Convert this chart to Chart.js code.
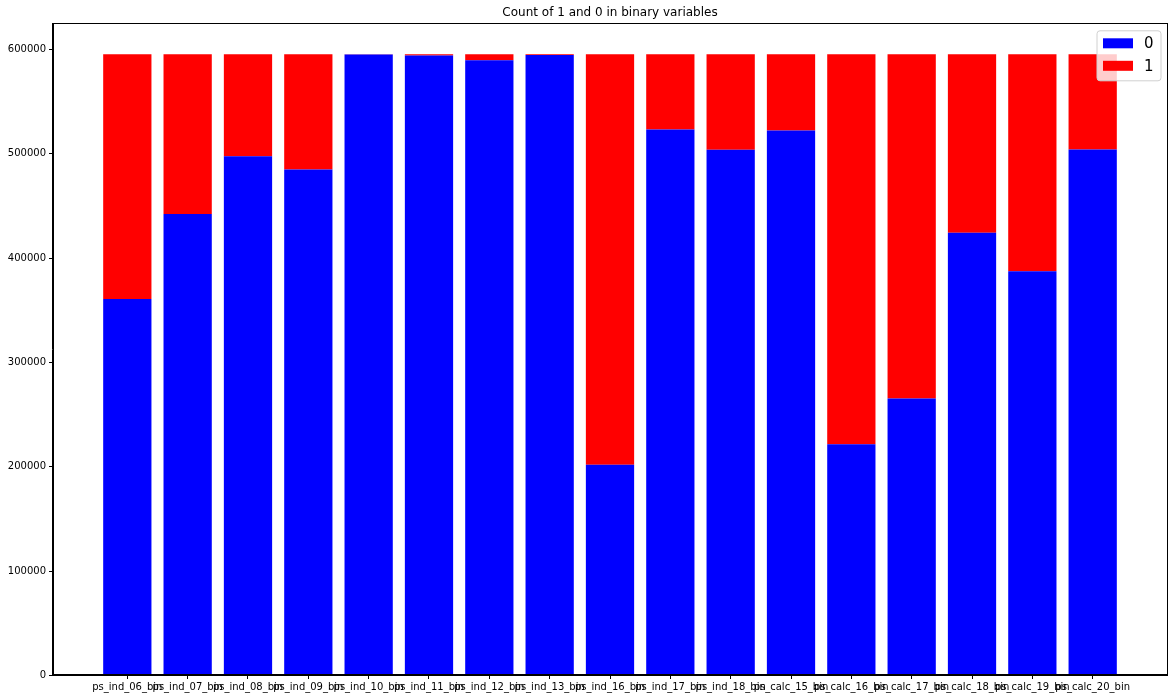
<!DOCTYPE html>
<html>
<head>
<meta charset="utf-8">
<script src="https://cdn.jsdelivr.net/npm/chart.js@4"></script>
<style>
html,body{margin:0;padding:0;background:#fff;}
#wrap{width:1175px;height:700px;position:relative;}
</style>
</head>
<body>
<div id="wrap"><canvas id="c" width="1175" height="700"></canvas></div>
<script>
const categories = ["ps_ind_06_bin","ps_ind_07_bin","ps_ind_08_bin","ps_ind_09_bin","ps_ind_10_bin","ps_ind_11_bin","ps_ind_12_bin","ps_ind_13_bin","ps_ind_16_bin","ps_ind_17_bin","ps_ind_18_bin","ps_calc_15_bin","ps_calc_16_bin","ps_calc_17_bin","ps_calc_18_bin","ps_calc_19_bin","ps_calc_20_bin"];
const zeroCounts = [360852,442223,497644,484917,594990,594205,589594,594648,201882,523143,503879,522342,221514,265356,424278,387469,503955];
const oneCounts  = [234360,152989,97568,110295,222,1007,5618,564,393330,72069,91333,72870,373698,329856,170934,207743,91257];
const yTicks = [0,100000,200000,300000,400000,500000,600000];
const seriesLabels = ["0","1"];
const seriesColors = ["#0000ff","#ff0000"];
const titleText = "Count of 1 and 0 in binary variables";

const FONT = "'DejaVu Sans', sans-serif";
const totalMax = Math.max(...zeroCounts.map((v,i)=>v+oneCounts[i]));
const yMax = totalMax * 1.05;
const n = categories.length;
const xMargin = 0.05 * (n - 1 + 0.8);

const frameAndLegend = {
  id: 'frameAndLegend',
  afterDraw(chart) {
    const ctx = chart.ctx, a = chart.chartArea;
    ctx.save();
    ctx.strokeStyle = '#000';
    ctx.lineWidth = 1;
    ctx.strokeRect(Math.round(a.left) + 0.5, Math.round(a.top) + 0.5, Math.round(a.right - a.left) - 1, Math.round(a.bottom - a.top) - 1);
    // legend
    const bx = a.right - 70.5, by = a.top + 7.5, bw = 64, bh = 50;
    ctx.fillStyle = 'rgba(255,255,255,0.8)';
    ctx.strokeStyle = '#d0d0d0';
    ctx.beginPath();
    if (ctx.roundRect) ctx.roundRect(bx, by, bw, bh, 3); else ctx.rect(bx, by, bw, bh);
    ctx.fill(); ctx.stroke();
    ctx.font = '15px ' + FONT;
    ctx.textBaseline = 'middle';
    ctx.textAlign = 'left';
    chart.data.datasets.forEach((ds, i) => {
      const cy = by + 12.5 + i * 22.5;
      ctx.fillStyle = ds.backgroundColor;
      ctx.fillRect(bx + 6, cy - 5, 30, 10);
      ctx.fillStyle = '#000';
      ctx.fillText(ds.label, bx + 47, cy + 1);
    });
    ctx.restore();
  }
};

new Chart(document.getElementById('c'), {
  type: 'bar',
  data: {
    datasets: [
      { label: seriesLabels[0], data: zeroCounts.map((v,i)=>({x:i,y:v})), backgroundColor: seriesColors[0], borderWidth: 0 },
      { label: seriesLabels[1], data: oneCounts.map((v,i)=>({x:i,y:v})), backgroundColor: seriesColors[1], borderWidth: 0 }
    ]
  },
  options: {
    responsive: false,
    animation: false,
    devicePixelRatio: 1,
    barPercentage: 0.8,
    categoryPercentage: 1.0,
    layout: { padding: { left: 0, right: 7.5, top: 0, bottom: 0 } },
    plugins: {
      legend: { display: false },
      tooltip: { enabled: false },
      title: {
        display: true, text: titleText, fullSize: false,
        color: '#000', font: { family: FONT, size: 12, weight: 'normal' },
        padding: { top: 6, bottom: 2.9 }
      }
    },
    scales: {
      x: {
        type: 'linear', stacked: true, offset: false,
        min: -0.4 - xMargin, max: n - 1 + 0.4 + xMargin,
        afterBuildTicks(s) { s.ticks = categories.map((_, i) => ({ value: i })); },
        afterFit(s) { s.height = 24.5; },
        grid: { drawOnChartArea: false, drawTicks: true, tickLength: 3.5, color: '#000', offset: false },
        border: { display: true, color: '#000', width: 1 },
        ticks: {
          autoSkip: false, maxRotation: 0, minRotation: 0, padding: 2,
          color: '#000', font: { family: FONT, size: 10 },
          callback: (v) => categories[v]
        }
      },
      y: {
        stacked: true, min: 0, max: yMax,
        afterBuildTicks(s) { s.ticks = yTicks.map(v => ({ value: v })); },
        afterFit(s) { s.width = 52.5; },
        grid: { drawOnChartArea: false, drawTicks: true, tickLength: 3.5, color: '#000' },
        border: { display: true, color: '#000', width: 1 },
        ticks: {
          padding: 3, color: '#000', font: { family: FONT, size: 10 },
          callback: (v) => String(v)
        }
      }
    }
  },
  plugins: [frameAndLegend]
});
</script>
</body>
</html>
